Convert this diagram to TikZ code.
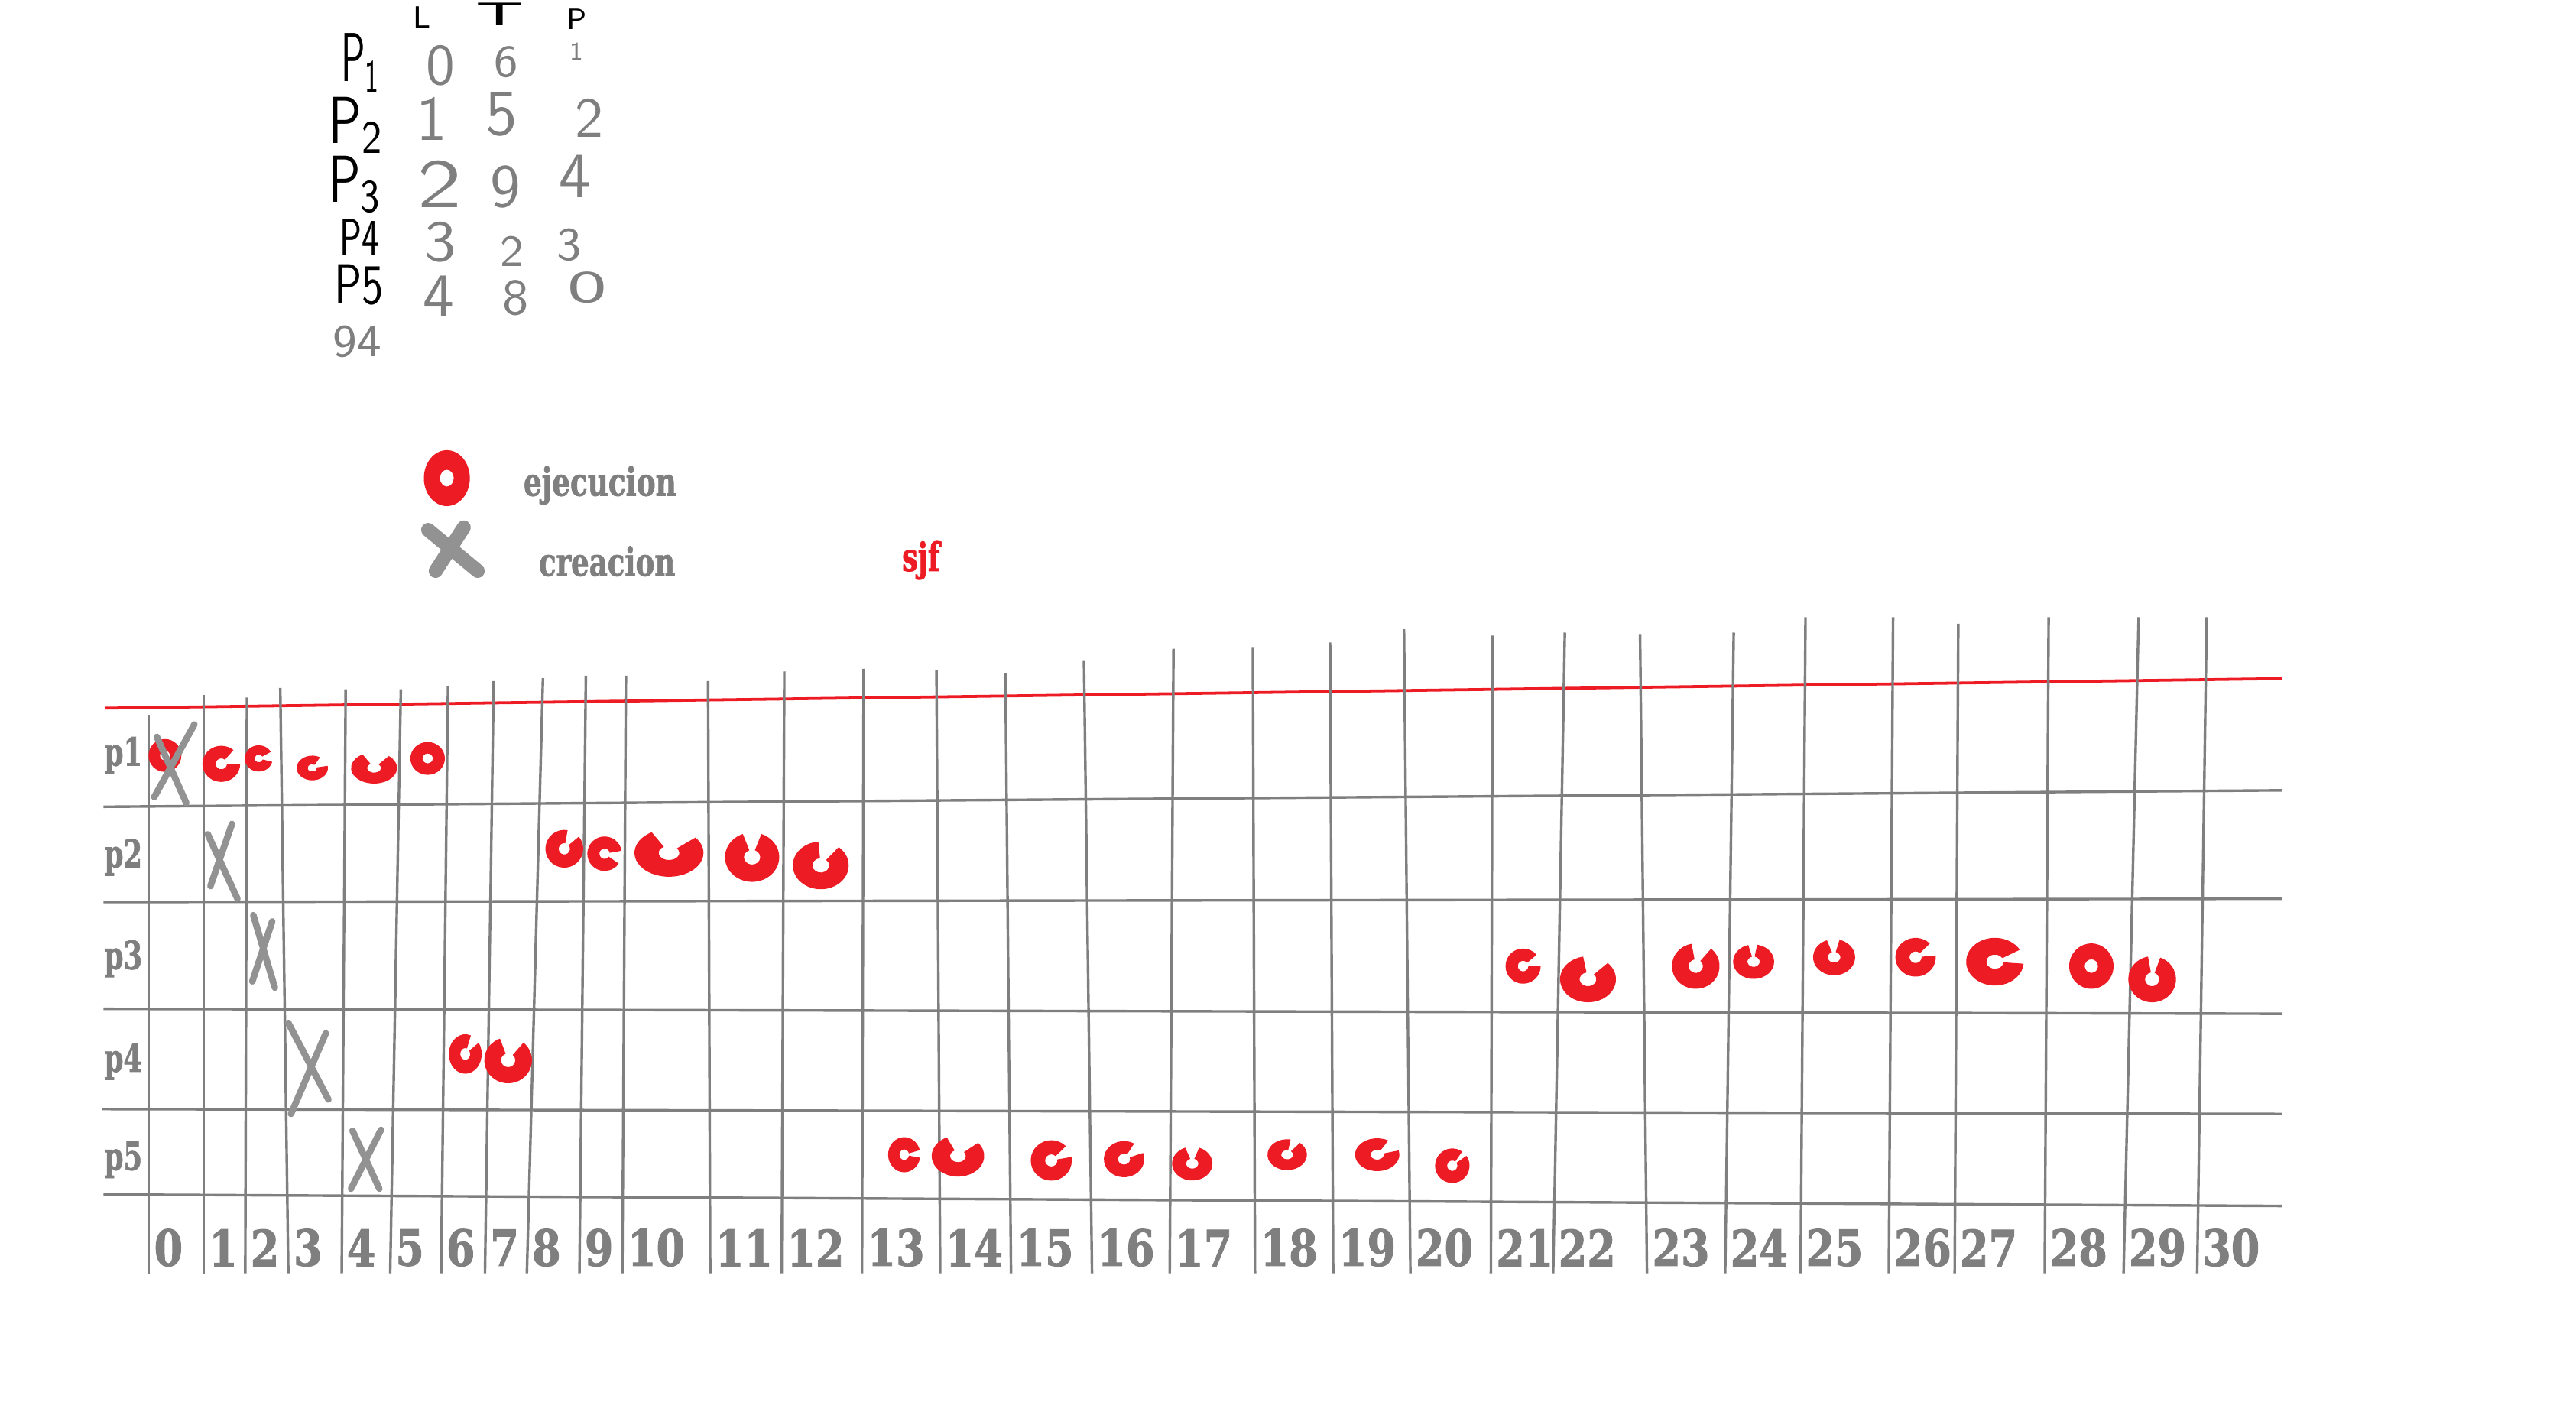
\documentclass[tikz,border=0pt]{standalone}
\usepackage{fontspec}
\usepackage{tikz}
\usetikzlibrary{positioning}
\newfontfamily\heavy{DejaVu Serif Bold}[FakeBold=1.6]
\definecolor{Mark}{HTML}{ED1C24}
\definecolor{Rule}{HTML}{7F7F7F}

% red execution blob: x, y, rx, ry, gap from, gap to (degrees as seen)
\newcommand{\ejec}[6]{%
  \fill[Mark] ([shift={({-(#5)}:{#3} and {#4})}]#1,#2)
    arc[start angle={-(#5)}, end angle={360-(#6)}, x radius=#3, y radius=#4]
    -- ([shift={({360-(#6)}:{0.3*#3} and {0.3*#4})}]#1,#2)
    arc[start angle={360-(#6)}, end angle={-(#5)}, x radius={0.3*#3}, y radius={0.3*#4}]
    -- cycle;}

\begin{document}
\begin{tikzpicture}[x=0.1mm,y=-0.1mm,
    gridline/.style={draw=Rule,line width=0.45pt},
    tick/.style={text=Rule,font=\heavy\fontsize{8.6}{9}\selectfont,inner sep=0pt,anchor=west},
    rowlabel/.style={text=Rule,font=\heavy\fontsize{6.7}{7}\selectfont,inner sep=0pt,anchor=base west},
    legend/.style={text=Rule,font=\heavy\fontsize{6.8}{7}\selectfont,inner sep=0pt,anchor=base west},
    cross/.style={draw=Rule!85,line width=0.4mm,line cap=round},
    hand/.style={font=\sffamily,text=Rule,inner sep=0pt},
    handlbl/.style={font=\sffamily,text=black,inner sep=0pt}]
    \useasboundingbox (0,0) rectangle (1568,861);

    % handwritten table
    \node[handlbl] (hl) at (257,10.5) {\fontsize{5.3}{6}\selectfont L};
    \node[handlbl] (ht) at (304,8.5) {\fontsize{5.7}{6}\selectfont\scalebox{2}[1]{T}};
    \node[handlbl] (hp) at (351,11.6) {\fontsize{5.1}{6}\selectfont P};
    \node[handlbl,anchor=base west] (q1) at (207,49.6) {\fontsize{12}{13}\selectfont\resizebox{2.4mm}{\height}{P\textsubscript{1}}};
    \node[handlbl,anchor=base west] (q2) at (199,87) {\fontsize{11.5}{12}\selectfont\resizebox{3.4mm}{\height}{P\textsubscript{2}}};
    \node[handlbl,anchor=base west] (q3) at (199,123) {\fontsize{11.5}{12}\selectfont\resizebox{3.3mm}{\height}{P\textsubscript{3}}};
    \node[handlbl,anchor=base west] (q4) at (206,155) {\fontsize{8.9}{10}\selectfont\resizebox{2.4mm}{\height}{P4}};
    \node[handlbl,anchor=base west] (q5) at (203,185) {\fontsize{9.8}{10}\selectfont\resizebox{3mm}{\height}{P5}};
    \node[hand] (tot) at (217.5,208) {\fontsize{7.9}{8}\selectfont 94};
    \node[hand] (l1) at (268,40) {\fontsize{10}{11}\selectfont 0};
    \node[hand] (t1) at (308,37.6) {\fontsize{7.8}{8}\selectfont 6};
    \node[hand] (p1) at (351,31.4) {\fontsize{4.4}{5}\selectfont 1};
    \node[hand] (l2) at (263,72.5) {\fontsize{11}{12}\selectfont 1};
    \node[hand] (t2) at (305.5,69.4) {\fontsize{11.2}{12}\selectfont 5};
    \node[hand] (p2) at (358.7,71.7) {\fontsize{9.8}{10}\selectfont 2};
    \node[hand] (l3) at (267.6,112) {\fontsize{12}{13}\selectfont\scalebox{1.3}[1]{2}};
    \node[hand] (t3) at (307.5,113.6) {\fontsize{10.5}{11}\selectfont 9};
    \node[hand] (p3) at (350,107.4) {\fontsize{11.2}{12}\selectfont 4};
    \node[hand] (l4) at (268,147.5) {\fontsize{10}{11}\selectfont\scalebox{1.1}[1]{3}};
    \node[hand] (t4) at (311.8,153.2) {\fontsize{7.7}{8}\selectfont 2};
    \node[hand] (p4) at (346.3,149) {\fontsize{8.1}{9}\selectfont 3};
    \node[hand] (l5) at (267,180.5) {\fontsize{10.8}{12}\selectfont 4};
    \node[hand] (t5) at (313.7,181.5) {\fontsize{8.8}{9}\selectfont 8};
    \node[hand] (p5) at (357.5,175) {\fontsize{7.8}{8}\selectfont\scalebox{1.65}[1]{0}};

    % legend
    \ejec{272}{291}{14}{17}{0}{0}
    \draw[cross,line width=0.85mm] (260.6,322.5) -- (290.8,347.5) (282.3,321) -- (265.2,347.5);
    \node[legend] (ejecucion) at (318,301.7) {\resizebox{9.3mm}{\height}{ejecucion}};
    \node[legend] (creacion) at (327.3,350.5) {\resizebox{8.3mm}{\height}{creacion}};
    \node[legend,text=Mark] (sjf) at (548.4,347.5) {\resizebox{2.3mm}{\height}{sjf}};

    % grid
    \draw[Mark,line width=0.5pt] (64,431) -- (1389,413);
    \draw[gridline] (63,491) -- (1389,481);
    \draw[gridline] (63,549) -- (1389,547);
    \draw[gridline] (63,614) -- (1389,617);
    \draw[gridline] (62,675) -- (1389,678);
    \draw[gridline] (63,727) -- (1389,734);
    \foreach \xt/\xb/\yt [count=\n from 0] in {90.6/90.6/435, 123.9/123.9/422.7,
        150.3/149.3/424.5, 170.6/175.5/418.7, 210.4/208/419.5, 244/237.5/419.5,
        272.7/268.5/417.7, 300.5/295.2/414.5, 330.5/320.7/412.7, 356.6/352.7/411.2,
        381/378.8/411.2, 431/432.3/414.5, 477.4/475.8/408.7, 525.7/524.7/407,
        570/572.3/408, 612/615.4/409.8, 659.8/664.7/402.3, 714.3/712/394.8,
        762.6/763.9/394.3, 809.6/811.5/391, 854.6/858.5/383, 908.5/907.5/386.8,
        952.5/945.4/385, 998.3/1002.5/386.3, 1055.3/1050.1/385, 1099/1096/375.6,
        1152.3/1149.7/375.6, 1192/1189.8/379.6, 1247/1244.6/375.6,
        1301.8/1292.6/375.6, 1343.2/1337.4/375.6}
    {
        \draw[gridline] (\xt,\yt) -- (\xb,775);
        \node[tick] (tick\n) at (\xb+2.5,759.4) {\scalebox{0.83}[1]{\n}};
    }
    \node[rowlabel] (row1) at (62.9,466) {\resizebox{2.3mm}{\height}{p1}};
    \node[rowlabel] (row2) at (62.9,528) {\resizebox{2.3mm}{\height}{p2}};
    \node[rowlabel] (row3) at (62.9,589.8) {\resizebox{2.3mm}{\height}{p3}};
    \node[rowlabel] (row4) at (62.9,652.3) {\resizebox{2.3mm}{\height}{p4}};
    \node[rowlabel] (row5) at (62.9,712.1) {\resizebox{2.3mm}{\height}{p5}};

    % p1
    \ejec{100.4}{459.8}{10}{10}{0}{0}
    \ejec{134.7}{464.9}{11.5}{11}{0}{50}
    \ejec{157.5}{461.6}{8.5}{8}{-15}{30}
    \ejec{190.1}{467.4}{9.5}{7.5}{10}{60}
    \ejec{227.7}{467.4}{14}{9.5}{50}{120}
    \ejec{260.3}{461.6}{10.5}{10}{0}{0}
    % p2
    \ejec{343.5}{516.6}{11.5}{11.5}{40}{80}
    \ejec{368}{519.6}{10.5}{10.5}{-35}{10}
    \ejec{407.2}{519.1}{21}{14.5}{40}{120}
    \ejec{457.8}{521.7}{16.5}{15}{70}{110}
    \ejec{499.6}{526.7}{17}{14.5}{50}{95}
    % p4
    \ejec{283.2}{641.5}{10}{12}{35}{70}
    \ejec{309.3}{645.3}{14.5}{14}{50}{110}
    % p5
    \ejec{550.4}{702.8}{9.8}{10.7}{-10}{15}
    \ejec{583.1}{703.6}{16}{12.5}{40}{115}
    \ejec{639.9}{706.3}{12.5}{12.3}{10}{45}
    \ejec{684.2}{705.5}{12.3}{11}{20}{60}
    \ejec{725.7}{708.2}{12.3}{10.3}{70}{110}
    \ejec{783.5}{702.8}{12}{9.4}{50}{80}
    \ejec{838.3}{702.8}{13.5}{10}{15}{60}
    \ejec{884}{709.5}{10.5}{10.5}{35}{55}
    % p3
    \ejec{927.1}{588}{10.7}{10.7}{0}{40}
    \ejec{966.6}{596}{17}{14}{45}{100}
    \ejec{1032.2}{588}{14.5}{13.8}{50}{100}
    \ejec{1067.4}{585.3}{12.5}{10.5}{80}{105}
    \ejec{1116.4}{582.6}{12.8}{11}{75}{110}
    \ejec{1166}{582.6}{12.3}{11.8}{5}{45}
    \ejec{1214.3}{585.3}{17.5}{14.5}{-5}{30}
    \ejec{1273}{588}{13.5}{13.8}{0}{0}
    \ejec{1310}{596}{14.5}{14}{70}{100}

    % creation marks
    \draw[cross] (118.3,440.9) -- (93.9,485.1) (95.5,448.5) -- (113.4,488.8);
    \draw[cross] (141.2,501.5) -- (128.1,539.3) (126.5,507.8) -- (144.5,546.9);
    \draw[cross] (165.7,560.8) -- (153.6,597.3) (154.2,557) -- (167.3,601.1);
    \draw[cross] (198.3,628.9) -- (177.1,678) (175.5,622.6) -- (199.9,669.2);
    \draw[cross] (231.9,687.7) -- (213.7,723.5) (214.6,688.2) -- (230.9,723.5);
\end{tikzpicture}
\end{document}
